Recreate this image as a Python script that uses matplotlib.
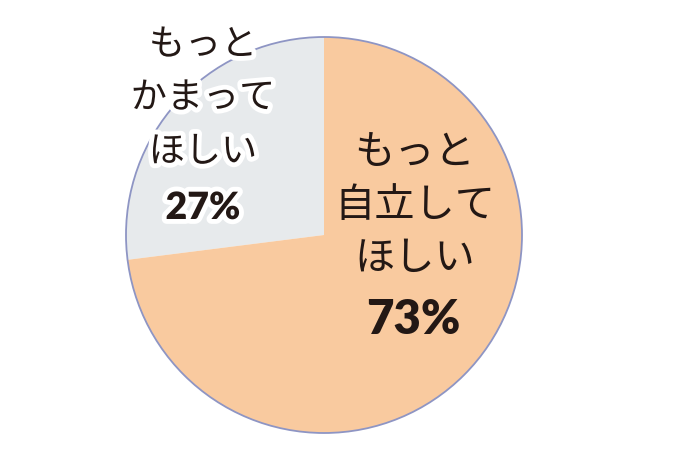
import matplotlib
matplotlib.use("Agg")
import matplotlib.pyplot as plt
import matplotlib.patheffects as pe
from matplotlib.patches import Circle

plt.rcParams['font.family'] = ['Noto Sans CJK JP', 'DejaVu Sans']

labels = ['もっと\nかまって\nほしい', 'もっと\n自立して\nほしい']
shares = [27, 73]
colors = ['#E7EAEC', '#F9CA9F']

W, H = 680, 453
fig = plt.figure(figsize=(W / 100, H / 100), dpi=100)
ax = fig.add_axes([0, 0, 1, 1])

cx, cy, r = 324, H - 235, 198
ax.pie(shares, colors=colors, startangle=90, center=(cx, cy), radius=r,
       wedgeprops=dict(linewidth=0))
ax.add_patch(Circle((cx, cy), r, fill=False, edgecolor='#8E95C4', linewidth=1.3))

ax.set_xlim(0, W)
ax.set_ylim(0, H)
ax.set_aspect('equal')
ax.axis('off')

ink = '#231815'
halo = [pe.withStroke(linewidth=7, foreground='white')]

# left label (gray slice)
left_y = [45, 98, 152]
for txt, y in zip(labels[0].split('\n'), left_y):
    ax.text(203, H - y, txt, ha='center', va='center', fontsize=26,
            color=ink, path_effects=halo)
ax.text(203, H - 208, f'{shares[0]}%', ha='center', va='center', fontsize=27,
        fontweight='heavy', family=['Lato', 'DejaVu Sans'], color=ink,
        path_effects=halo)

# right label (orange slice)
right_y = [152, 205, 258]
for txt, y in zip(labels[1].split('\n'), right_y):
    ax.text(415, H - y, txt, ha='center', va='center', fontsize=29, color=ink)
ax.text(413, H - 320, f'{shares[1]}%', ha='center', va='center', fontsize=34,
        fontweight='heavy', family=['Lato', 'DejaVu Sans'], color=ink)

fig.savefig('out.png', dpi=100, facecolor='white')
